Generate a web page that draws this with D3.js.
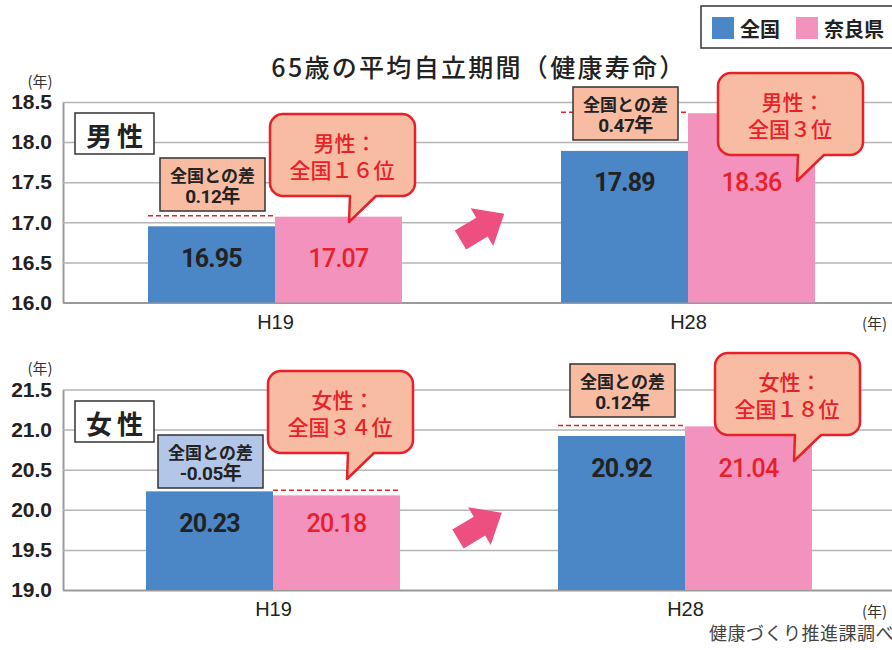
<!DOCTYPE html>
<html lang="ja">
<head>
<meta charset="utf-8">
<script src="https://cdn.jsdelivr.net/npm/d3@7"></script>
<style>
    body { margin: 0; background: #fff; }
    svg { display: block; font-family: 'Noto Sans CJK JP', sans-serif; }
</style>
</head>
<body>
<svg id="chart" width="892" height="650"></svg>
<script>
// ---------------------------------------------------------------
// data
const periods = ['H19', 'H28']
const seriesNames = ['全国', '奈良県']

const maleNational = [16.95, 17.89]
const maleNara = [17.07, 18.36]
const maleRank = [16, 3]

const femaleNational = [20.23, 20.92]
const femaleNara = [20.18, 21.04]
const femaleRank = [34, 18]

const maleTicks = [16.0, 16.5, 17.0, 17.5, 18.0, 18.5]
const femaleTicks = [19.0, 19.5, 20.0, 20.5, 21.0, 21.5]

// ---------------------------------------------------------------
// layout
const W = 892, left = 63, barWidth = 127
const RED = '#e8202a'
const color = d3.scaleOrdinal().domain(seriesNames).range(['#4b86c6', '#f392bd'])

const panels = [
    {label: '男性', national: maleNational, nara: maleNara, rank: maleRank, ticks: maleTicks,
        top: 102, bottom: 302.5, xRange: [275, 688], boxY: 113,
        diffY: [158, 87], bubbleY: [114, 73], arrowY: 240},
    {label: '女性', national: femaleNational, nara: femaleNara, rank: femaleRank, ticks: femaleTicks,
        top: 389.5, bottom: 590, xRange: [273, 685], boxY: 401,
        diffY: [435, 364], bubbleY: [371, 353], arrowY: 539}
]

const fullWidth = s => String(s).replace(/[0-9]/g, c => String.fromCharCode(c.charCodeAt(0) + 0xFEE0))

const svg = d3.select('#chart')

// speech bubble: rounded rect with a tail on its bottom edge
function bubblePath(x, y, w, h, r) {
    const b1 = x + 80, b2 = x + 106, tx = x + 79, ty = y + h + 26
    return `M${x + r},${y} H${x + w - r} A${r},${r} 0 0 1 ${x + w},${y + r}` +
        ` V${y + h - r} A${r},${r} 0 0 1 ${x + w - r},${y + h}` +
        ` H${b2} L${tx},${ty} L${b1},${y + h}` +
        ` H${x + r} A${r},${r} 0 0 1 ${x},${y + h - r}` +
        ` V${y + r} A${r},${r} 0 0 1 ${x + r},${y} Z`
}

const arrowShape = [[0, -11], [25, -11], [25, -22], [51, 0], [25, 22], [25, 11], [0, 11]]

panels.forEach(p => {
    const y = d3.scaleLinear().domain(d3.extent(p.ticks)).range([p.bottom, p.top])
    const x = d3.scalePoint().domain(periods).range(p.xRange)
    const xs = d3.scaleBand().domain(seriesNames).range([-barWidth, barWidth])

    const g = svg.append('g')

    //-------------------------------------------------------------
    // grid and y axis
    const yAxis = d3.axisLeft(y)
        .tickValues(p.ticks)
        .tickFormat(d3.format('.1f'))
        .tickSizeInner(-(W + 20 - left))
        .tickSizeOuter(0)
        .tickPadding(11)

    const ga = g.append('g')
        .attr('transform', `translate(${left},0)`)
        .call(yAxis)

    ga.select('.domain').attr('stroke', '#9a9a9a').attr('stroke-width', 2)
    ga.selectAll('.tick line')
        .attr('stroke', d => d === p.ticks[0] ? '#9a9a9a' : '#b5b5b5')
        .attr('stroke-width', d => d === p.ticks[0] ? 2.2 : 1.5)
    ga.selectAll('.tick text')
        .attr('font-family', 'Liberation Sans, Arial, sans-serif')
        .attr('font-weight', 'bold')
        .attr('font-size', 21)
        .attr('fill', '#222')

    g.append('text')
        .attr('x', 40).attr('y', p.top - 22)
        .attr('text-anchor', 'middle')
        .attr('dominant-baseline', 'central')
        .attr('font-size', 15)
        .attr('fill', '#333')
        .text('(年)')

    // x axis labels
    const xa = g.append('g')
        .attr('transform', `translate(0,${p.bottom})`)
        .call(d3.axisBottom(x).tickSize(0).tickPadding(12))
    xa.select('.domain').remove()
    xa.selectAll('.tick text')
        .attr('font-family', 'Liberation Sans, Arial, sans-serif')
        .attr('font-size', 20)
        .attr('fill', '#222')

    g.append('text')
        .attr('x', 862).attr('y', p.bottom + 20)
        .attr('dominant-baseline', 'central')
        .attr('font-size', 15)
        .attr('fill', '#333')
        .text('(年)')

    //-------------------------------------------------------------
    // bars
    const rows = periods.map((period, i) => ({
        period: period,
        i: i,
        values: [
            {series: seriesNames[0], value: p.national[i]},
            {series: seriesNames[1], value: p.nara[i]}
        ]
    }))

    const groups = g.selectAll('g.period')
        .data(rows)
        .enter()
            .append('g')
            .attr('class', 'period')
            .attr('transform', d => `translate(${x(d.period)},0)`)

    groups.selectAll('rect')
        .data(d => d.values)
        .enter()
            .append('rect')
            .attr('x', d => xs(d.series))
            .attr('y', d => y(d.value))
            .attr('width', xs.bandwidth())
            .attr('height', d => p.bottom - y(d.value))
            .attr('fill', d => color(d.series))

    groups.selectAll('text.value')
        .data(d => d.values.map(v => Object.assign({labelY: y(d.values[0].value) + 32}, v)))
        .enter()
            .append('text')
            .attr('class', 'value')
            .attr('x', d => xs(d.series) + xs.bandwidth() / 2)
            .attr('y', d => d.labelY)
            .attr('text-anchor', 'middle')
            .attr('dominant-baseline', 'central')
            .attr('font-family', 'Roboto, Liberation Sans, sans-serif')
            .attr('font-weight', d => d.series === seriesNames[0] ? 700 : 500)
            .attr('font-size', 25)
            .attr('letter-spacing', -0.8)
            .attr('fill', d => d.series === seriesNames[0] ? '#222' : RED)
            .text(d => d.value.toFixed(2))

    // dashed line over the lower bar at the level of the higher one
    groups.append('line')
        .each(function (d) {
            const lower = d3.least(d.values, v => v.value)
            const higher = d3.greatest(d.values, v => v.value)
            d3.select(this)
                .attr('x1', xs(lower.series))
                .attr('x2', xs(lower.series) + xs.bandwidth())
                .attr('y1', y(higher.value) - 1)
                .attr('y2', y(higher.value) - 1)
        })
        .attr('stroke', RED)
        .attr('stroke-width', 1.5)
        .attr('stroke-dasharray', '5,3')

    // difference box
    const diffBox = groups.append('g')
        .attr('transform', (d, i) => `translate(${-115},${p.diffY[i]})`)

    diffBox.append('rect')
        .attr('width', 105)
        .attr('height', 53)
        .attr('fill', d => (d.values[1].value - d.values[0].value) < 0 ? '#b4c6e7' : '#f8bca3')
        .attr('stroke', '#333')
        .attr('stroke-width', 1.5)

    const diffText = diffBox.append('text')
        .attr('text-anchor', 'middle')
        .attr('font-weight', 'bold')
        .attr('fill', '#222')

    diffText.append('tspan')
        .attr('x', 52.5).attr('y', 24)
        .attr('font-size', 17)
        .text('全国との差')

    diffText.append('tspan')
        .attr('x', 52.5).attr('y', 45)
        .attr('font-family', 'Roboto, Noto Sans CJK JP, sans-serif')
        .attr('font-size', 19)
        .attr('letter-spacing', -0.5)
        .text(d => (d.values[1].value - d.values[0].value).toFixed(2) + '年')

    // ranking bubble
    const bubble = groups.append('g')
        .attr('transform', (d, i) => `translate(${-5 + (i === 1 ? 35 : 0)},${p.bubbleY[i]})`)

    bubble.append('path')
        .attr('d', bubblePath(0, 0, 145, 82, 13))
        .attr('fill', '#f8bca3')
        .attr('stroke', RED)
        .attr('stroke-width', 2.5)
        .attr('stroke-linejoin', 'round')

    const rankText = bubble.append('text')
        .attr('text-anchor', 'middle')
        .attr('font-weight', 500)
        .attr('font-size', 21)
        .attr('fill', RED)

    rankText.append('tspan')
        .attr('x', 75).attr('y', 37)
        .text(p.label + '：')

    rankText.append('tspan')
        .attr('x', 72).attr('y', 64)
        .text((d, i) => '全国' + fullWidth(p.rank[i]) + '位')

    //-------------------------------------------------------------
    // arrow between the two periods
    const midX = (x(periods[0]) + x(periods[1])) / 2
    g.append('polygon')
        .attr('points', arrowShape.map(pt => pt.join(',')).join(' '))
        .attr('transform', `translate(${midX - 21},${p.arrowY})rotate(-31)`)
        .attr('fill', '#ec4f80')

    // panel label
    const lab = g.append('g')
        .attr('transform', `translate(75,${p.boxY})`)
    lab.append('rect')
        .attr('width', 79)
        .attr('height', 41)
        .attr('fill', '#fff')
        .attr('stroke', '#333')
        .attr('stroke-width', 1.5)
    lab.append('text')
        .attr('x', 42).attr('y', 21)
        .attr('text-anchor', 'middle')
        .attr('dominant-baseline', 'central')
        .attr('font-weight', 'bold')
        .attr('font-size', 26)
        .attr('letter-spacing', 5)
        .attr('fill', '#222')
        .text(p.label)
})

// ---------------------------------------------------------------
// title
svg.append('text')
    .attr('x', 479).attr('y', 66)
    .attr('text-anchor', 'middle')
    .attr('dominant-baseline', 'central')
    .attr('font-weight', 500)
    .attr('font-size', 25)
    .attr('letter-spacing', 2.3)
    .attr('fill', '#222')
    .text('65歳の平均自立期間（健康寿命）')

// legend
const legend = svg.append('g')
    .attr('transform', 'translate(701,6)')

legend.append('rect')
    .attr('width', 200)
    .attr('height', 42)
    .attr('fill', '#fff')
    .attr('stroke', '#333')
    .attr('stroke-width', 1.5)

const legendItems = legend.selectAll('g.item')
    .data(seriesNames)
    .enter()
        .append('g')
        .attr('class', 'item')
        .attr('transform', (d, i) => `translate(${11 + i * 84},11)`)

legendItems.append('rect')
    .attr('width', 22)
    .attr('height', 22)
    .attr('fill', d => color(d))

legendItems.append('text')
    .attr('x', 28).attr('y', 11)
    .attr('dominant-baseline', 'central')
    .attr('font-weight', 'bold')
    .attr('font-size', 20)
    .attr('fill', '#222')
    .text(d => d)

// source
svg.append('text')
    .attr('x', 709).attr('y', 632)
    .attr('dominant-baseline', 'central')
    .attr('font-size', 18)
    .attr('letter-spacing', 0.5)
    .attr('fill', '#444')
    .text('健康づくり推進課調べ')
</script>
</body>
</html>
